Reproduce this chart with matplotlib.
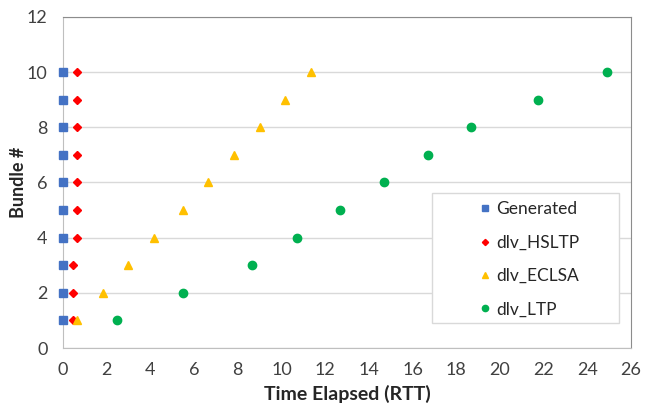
import matplotlib
matplotlib.use("Agg")
from matplotlib import pyplot as plt
from matplotlib.patches import Rectangle

plt.rcParams['font.family'] = ['Lato', 'DejaVu Sans']

bundles = [1, 2, 3, 4, 5, 6, 7, 8, 9, 10]
generated = [0, 0, 0, 0, 0, 0, 0, 0, 0, 0]
dlv_hsltp = [0.46, 0.46, 0.46, 0.64, 0.64, 0.64, 0.64, 0.64, 0.64, 0.64]
dlv_eclsa = [0.64, 1.83, 2.98, 4.17, 5.5, 6.65, 7.84, 9.04, 10.18, 11.33]
dlv_ltp = [2.48, 5.5, 8.67, 10.69, 12.7, 14.68, 16.7, 18.67, 21.74, 24.9]

fig = plt.figure(figsize=(6.48, 4.04), dpi=100)
ax = fig.add_axes([0.0972, 0.1386, 0.8766, 0.8194])

ax.plot(generated, bundles, ls='none', marker='s', ms=6, color='#4472C4', label='Generated', clip_on=False, zorder=3)
ax.plot(dlv_hsltp, bundles, ls='none', marker='D', ms=4.2, color='#FF0000', label='dlv_HSLTP', clip_on=False, zorder=3)
ax.plot(dlv_eclsa, bundles, ls='none', marker='^', ms=6.2, color='#FFC000', label='dlv_ECLSA', clip_on=False, zorder=3)
ax.plot(dlv_ltp, bundles, ls='none', marker='o', ms=6, color='#00B050', label='dlv_LTP', clip_on=False, zorder=3)

ax.set_xlim(0, 26)
ax.set_ylim(0, 12)
ax.set_xticks(range(0, 27, 2))
ax.set_yticks(range(0, 13, 2))
ax.tick_params(length=0, labelsize=13, colors='#404040')
ax.tick_params(axis='x', pad=10)
ax.tick_params(axis='y', pad=11)
ax.grid(axis='y', color='#D9D9D9', lw=1)
ax.set_axisbelow(True)

for s in ['left', 'bottom']:
    ax.spines[s].set_color('#BFBFBF')
for s in ['top', 'right']:
    ax.spines[s].set_color('#8C8C8C')

ax.set_xlabel('Time Elapsed (RTT)', fontsize=14, fontweight='bold', color='#262626', labelpad=5)
ax.set_ylabel('Bundle #', fontsize=13, fontweight='bold', color='#262626')
ax.yaxis.set_label_coords(-0.064, 0.5)

# legend box (Excel style, entries centred)
ax.add_patch(Rectangle((0.6496, 0.0755), 0.3294, 0.3925, transform=ax.transAxes,
                       facecolor='white', edgecolor='#D9D9D9', lw=1, zorder=4))
leg = ax.legend(loc='upper left', bbox_to_anchor=(0.7306, 0.443), frameon=False,
                fontsize=12.5, labelspacing=1.0, handletextpad=0.24, borderpad=0,
                markerscale=0.75, handlelength=0.8, borderaxespad=0)
leg.set_zorder(5)
for t in leg.get_texts():
    t.set_color('#262626')

fig.savefig('out.png', dpi=100)
